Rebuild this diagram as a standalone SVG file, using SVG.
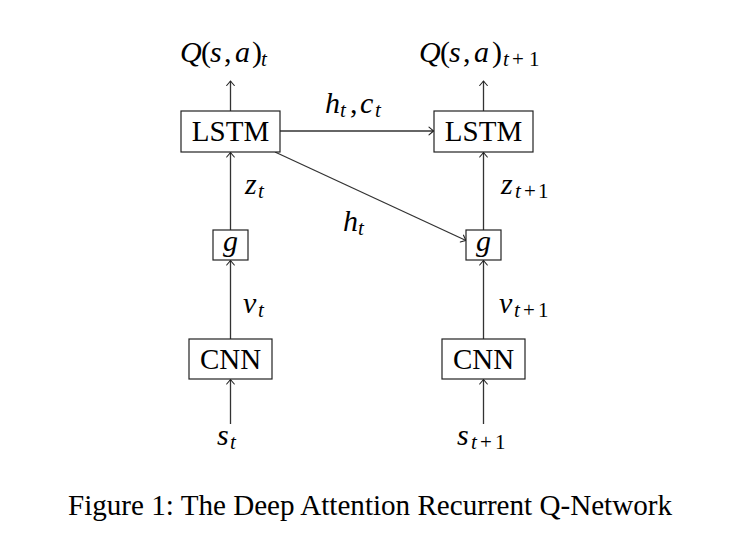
<svg xmlns="http://www.w3.org/2000/svg" width="729" height="554" viewBox="0 0 729 554">
<defs>
<marker id="arr" markerUnits="userSpaceOnUse" markerWidth="12" markerHeight="12" viewBox="-6 -6 12 12" refX="0" refY="0" orient="auto">
<path d="M-4.5,-3.8 Q-1.2,-1 0,0 Q-1.2,1 -4.5,3.8" fill="none" stroke="#222" stroke-width="1.1" stroke-linecap="round"/>
</marker>
</defs>
<style>
.box{fill:#fff;stroke:#222;stroke-width:1.2}
.edge{stroke:#333;stroke-width:1.3;fill:none;marker-end:url(#arr)}
.rm{font-family:"Liberation Serif",serif;font-size:29px;fill:#000}
.mi{font-family:"Liberation Serif",serif;font-size:30px;font-style:italic;fill:#000}
.up{font-style:normal}
.sb{font-size:21px}
.cap{font-family:"Liberation Serif",serif;font-size:29px;fill:#000}
</style>
<rect width="729" height="554" fill="#fff"/>
<g id="connectors">
<line class="edge" x1="230.5" y1="111" x2="230.5" y2="81"/>
<line class="edge" x1="483.5" y1="111" x2="483.5" y2="81"/>
<line class="edge" x1="280" y1="131" x2="433.5" y2="131"/>
<line class="edge" x1="275" y1="152" x2="466" y2="240.5"/>
<line class="edge" x1="230.5" y1="230" x2="230.5" y2="152.5"/>
<line class="edge" x1="483.5" y1="230" x2="483.5" y2="152.5"/>
<line class="edge" x1="230.5" y1="339" x2="230.5" y2="260.5"/>
<line class="edge" x1="483.5" y1="339" x2="483.5" y2="260.5"/>
<line class="edge" x1="230.5" y1="424" x2="230.5" y2="379.5"/>
<line class="edge" x1="483.5" y1="424" x2="483.5" y2="379.5"/>
</g>
<g id="lstm_t">
<rect class="box" x="181" y="111" width="99" height="41"/>
<text class="rm" x="230.5" y="141" text-anchor="middle">LSTM</text>
</g>
<g id="lstm_t1">
<rect class="box" x="434" y="111" width="99" height="41"/>
<text class="rm" x="483.5" y="141" text-anchor="middle">LSTM</text>
</g>
<g id="g_t">
<rect class="box" x="213" y="230" width="35" height="30"/>
<text class="mi" x="230.5" y="251" text-anchor="middle">g</text>
</g>
<g id="g_t1">
<rect class="box" x="466" y="230" width="35" height="30"/>
<text class="mi" x="483.5" y="251" text-anchor="middle">g</text>
</g>
<g id="cnn_t">
<rect class="box" x="189" y="339" width="83" height="40"/>
<text class="rm" x="230.5" y="369" text-anchor="middle">CNN</text>
</g>
<g id="cnn_t1">
<rect class="box" x="442" y="339" width="83" height="40"/>
<text class="rm" x="483.5" y="369" text-anchor="middle">CNN</text>
</g>
<g id="labels">
<text class="mi" y="62"><tspan x="180">Q</tspan><tspan class="up" x="201">(</tspan><tspan x="210">s</tspan><tspan class="up" x="224">,</tspan><tspan x="235">a</tspan><tspan class="up" x="252">)</tspan><tspan class="sb" x="261" y="66">t</tspan></text>
<text class="mi" y="62"><tspan x="419">Q</tspan><tspan class="up" x="440">(</tspan><tspan x="449">s</tspan><tspan class="up" x="463">,</tspan><tspan x="474">a</tspan><tspan class="up" x="492">)</tspan><tspan class="sb" x="503" y="66">t</tspan><tspan class="sb up" x="512" y="66">+</tspan><tspan class="sb up" x="529" y="66">1</tspan></text>
<text class="mi" y="113"><tspan x="325">h</tspan><tspan class="sb" x="340" y="117">t</tspan><tspan class="up" x="350" y="113">,</tspan><tspan x="360" y="113">c</tspan><tspan class="sb" x="375" y="117">t</tspan></text>
<text class="mi" y="231"><tspan x="343">h</tspan><tspan class="sb" x="358" y="235">t</tspan></text>
<text class="mi" y="194"><tspan x="245">z</tspan><tspan class="sb" x="258" y="198">t</tspan></text>
<text class="mi" y="194"><tspan x="501">z</tspan><tspan class="sb" x="515" y="198">t</tspan><tspan class="sb up" x="524" y="198">+</tspan><tspan class="sb up" x="538" y="198">1</tspan></text>
<text class="mi" y="313"><tspan x="243">v</tspan><tspan class="sb" x="258" y="317">t</tspan></text>
<text class="mi" y="313"><tspan x="499">v</tspan><tspan class="sb" x="514" y="317">t</tspan><tspan class="sb up" x="523" y="317">+</tspan><tspan class="sb up" x="538" y="317">1</tspan></text>
<text class="mi" y="445"><tspan x="217">s</tspan><tspan class="sb" x="230" y="449">t</tspan></text>
<text class="mi" y="445"><tspan x="457">s</tspan><tspan class="sb" x="471" y="449">t</tspan><tspan class="sb up" x="480" y="449">+</tspan><tspan class="sb up" x="495" y="449">1</tspan></text>
</g>
<text class="cap" x="68" y="515" textLength="604" lengthAdjust="spacingAndGlyphs">Figure 1: The Deep Attention Recurrent Q-Network</text>
</svg>
